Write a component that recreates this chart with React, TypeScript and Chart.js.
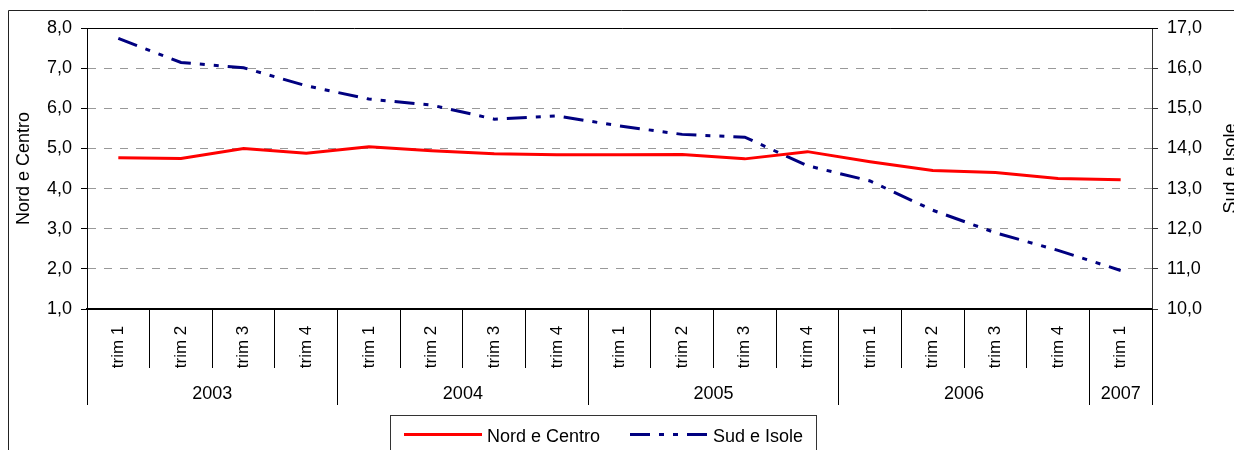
import React, { useEffect, useRef } from "react";
import { Chart, registerables } from "chart.js";

Chart.register(...registerables);

const categories = [
  "trim 1", "trim 2", "trim 3", "trim 4",
  "trim 1", "trim 2", "trim 3", "trim 4",
  "trim 1", "trim 2", "trim 3", "trim 4",
  "trim 1", "trim 2", "trim 3", "trim 4",
  "trim 1",
];
const years = ["2003", "2004", "2005", "2006", "2007"];
const yearSpans = [4, 4, 4, 4, 1];

const nordCentro = [4.77, 4.75, 5.0, 4.88, 5.04, 4.94, 4.87, 4.84, 4.84, 4.85, 4.74, 4.92, 4.67, 4.45, 4.4, 4.25, 4.22];
const sudIsole = [16.74, 16.14, 16.01, 15.56, 15.23, 15.08, 14.73, 14.81, 14.56, 14.35, 14.28, 13.57, 13.19, 12.46, 11.9, 11.46, 10.96];

const leftMin = 1;
const leftMax = 8;
const rightMin = 10;
const rightMax = 17;

const leftTitle = "Nord e Centro";
const rightTitle = "Sud e Isole";

const FONT = "'Liberation Sans', Arial, sans-serif";
const fmt = (v: number) => v.toFixed(1).replace(".", ",");
const align1 = (p: number) => Math.round(p - 0.5) + 0.5;

const decorPlugin = {
  id: "decor",
  beforeDatasetsDraw(chart: any) {
    const { ctx, chartArea } = chart;
    ctx.save();
    ctx.strokeStyle = "#000";
    ctx.lineWidth = 1;
    ctx.beginPath();
    const y = align1(chartArea.top);
    ctx.moveTo(chartArea.left, y);
    ctx.lineTo(chartArea.right + 6, y);
    ctx.stroke();
    ctx.restore();
  },
  afterDraw(chart: any) {
    const { ctx, chartArea } = chart;
    const xs = chart.scales.x;
    ctx.save();
    // outer frame
    ctx.strokeStyle = "#222";
    ctx.lineWidth = 1;
    ctx.beginPath();
    ctx.moveTo(8.5, 450);
    ctx.lineTo(8.5, 10.5);
    ctx.lineTo(1234, 10.5);
    ctx.stroke();

    const half = (xs.getPixelForValue(1) - xs.getPixelForValue(0)) / 2;
    const axisY = chartArea.bottom;

    // category labels
    ctx.fillStyle = "#000";
    ctx.font = `17px ${FONT}`;
    ctx.textAlign = "center";
    ctx.textBaseline = "middle";
    categories.forEach((c, i) => {
      const x = xs.getPixelForValue(i);
      ctx.save();
      ctx.translate(x, axisY + 38);
      ctx.rotate(-Math.PI / 2);
      ctx.fillText(c, 0, 0);
      ctx.restore();
    });

    // year separators and labels
    ctx.strokeStyle = "#000";
    ctx.lineWidth = 1;
    ctx.font = `18px ${FONT}`;
    ctx.textBaseline = "alphabetic";
    let start = 0;
    const boundaries: number[] = [xs.getPixelForValue(0) - half];
    years.forEach((yr, k) => {
      const end = start + yearSpans[k] - 1;
      const left = xs.getPixelForValue(start) - half;
      const right = xs.getPixelForValue(end) + half;
      boundaries.push(right);
      ctx.fillText(yr, (left + right) / 2, axisY + 90);
      start = end + 1;
    });
    boundaries.forEach((bx) => {
      const x = align1(bx);
      ctx.beginPath();
      ctx.moveTo(x, axisY);
      ctx.lineTo(x, axisY + 96);
      ctx.stroke();
    });

    // right axis title
    ctx.save();
    ctx.translate(1236, (chartArea.top + chartArea.bottom) / 2);
    ctx.rotate(-Math.PI / 2);
    ctx.textAlign = "center";
    ctx.textBaseline = "alphabetic";
    ctx.font = `18px ${FONT}`;
    ctx.fillStyle = "#000";
    ctx.fillText(rightTitle, 0, 0);
    ctx.restore();

    // legend
    ctx.strokeStyle = "#333";
    ctx.lineWidth = 1;
    ctx.strokeRect(390.5, 415.5, 426, 60);
    const ds = chart.data.datasets;
    const items = [
      { x0: 404, x1: 482, tx: 487 },
      { x0: 630, x1: 707, tx: 713 },
    ];
    items.forEach((it, i) => {
      const d = ds[i];
      ctx.save();
      ctx.strokeStyle = d.borderColor;
      ctx.lineWidth = d.borderWidth;
      ctx.setLineDash(d.borderDash || []);
      ctx.beginPath();
      ctx.moveTo(it.x0, 434.5);
      ctx.lineTo(it.x1, 434.5);
      ctx.stroke();
      ctx.restore();
      ctx.fillStyle = "#000";
      ctx.textAlign = "left";
      ctx.textBaseline = "alphabetic";
      ctx.font = `18px ${FONT}`;
      ctx.fillText(d.label, it.tx, 442);
    });
    ctx.restore();
  },
};

export default function App() {
  const ref = useRef<HTMLCanvasElement | null>(null);
  useEffect(() => {
    if (!ref.current) return;
    Chart.defaults.font.family = FONT;
    const chart = new Chart(ref.current, {
      type: "line",
      data: {
        labels: categories,
        datasets: [
          {
            label: "Nord e Centro",
            data: nordCentro,
            borderColor: "#ff0000",
            backgroundColor: "#ff0000",
            borderWidth: 3,
            pointRadius: 0,
            tension: 0,
            fill: false,
            yAxisID: "y",
          },
          {
            label: "Sud e Isole",
            data: sudIsole,
            borderColor: "#000080",
            backgroundColor: "#000080",
            borderWidth: 3,
            borderDash: [20, 9, 5, 9, 5, 9],
            pointRadius: 0,
            tension: 0,
            fill: false,
            yAxisID: "y1",
          },
        ],
      },
      options: {
        animation: false,
        responsive: false,
        layout: { padding: { top: 28, left: 0, right: 0, bottom: 0 } },
        plugins: { legend: { display: false }, tooltip: { enabled: false } },
        scales: {
          x: {
            type: "category",
            offset: true,
            ticks: { display: false },
            grid: {
              display: true,
              offset: true,
              drawOnChartArea: false,
              drawTicks: true,
              tickLength: 59,
              color: "#000",
              tickColor: "#000",
              tickWidth: 1,
              lineWidth: 1,
            },
            border: { display: true, color: "#000", width: 2 },
            afterFit: (s: any) => {
              s.height = 141;
            },
          },
          y: {
            position: "left",
            min: leftMin,
            max: leftMax,
            ticks: {
              stepSize: 1,
              padding: 9,
              color: "#000",
              font: { size: 18, family: FONT },
              callback: (v: any) => fmt(Number(v)),
            },
            grid: {
              color: "#999",
              lineWidth: 1,
              drawTicks: true,
              tickLength: 6,
              tickColor: "#000",
              tickWidth: 1,
              tickBorderDash: [],
            },
            border: { display: true, color: "#000", width: 1, dash: [8, 8] },
            title: {
              display: true,
              text: leftTitle,
              color: "#000",
              font: { size: 18, family: FONT, lineHeight: 1.2 },
              padding: { top: 13.7, bottom: 0 },
            },
            afterFit: (s: any) => {
              s.width = 87;
            },
          },
          y1: {
            position: "right",
            min: rightMin,
            max: rightMax,
            ticks: {
              stepSize: 1,
              padding: 9,
              color: "#000",
              font: { size: 18, family: FONT },
              callback: (v: any) => fmt(Number(v)),
            },
            grid: {
              drawOnChartArea: false,
              drawTicks: true,
              tickLength: 6,
              tickColor: "#333",
              tickWidth: 1,
              tickBorderDash: [],
            },
            border: { display: true, color: "#333", width: 1 },
            afterFit: (s: any) => {
              s.width = 82;
            },
          },
        },
      } as any,
      plugins: [decorPlugin],
    });
    return () => chart.destroy();
  }, []);
  return (
    <div style={{ position: "absolute", left: 0, top: 0, width: 1234, height: 450, overflow: "hidden" }}>
      <canvas ref={ref} width={1234} height={450} style={{ display: "block" }} />
    </div>
  );
}
